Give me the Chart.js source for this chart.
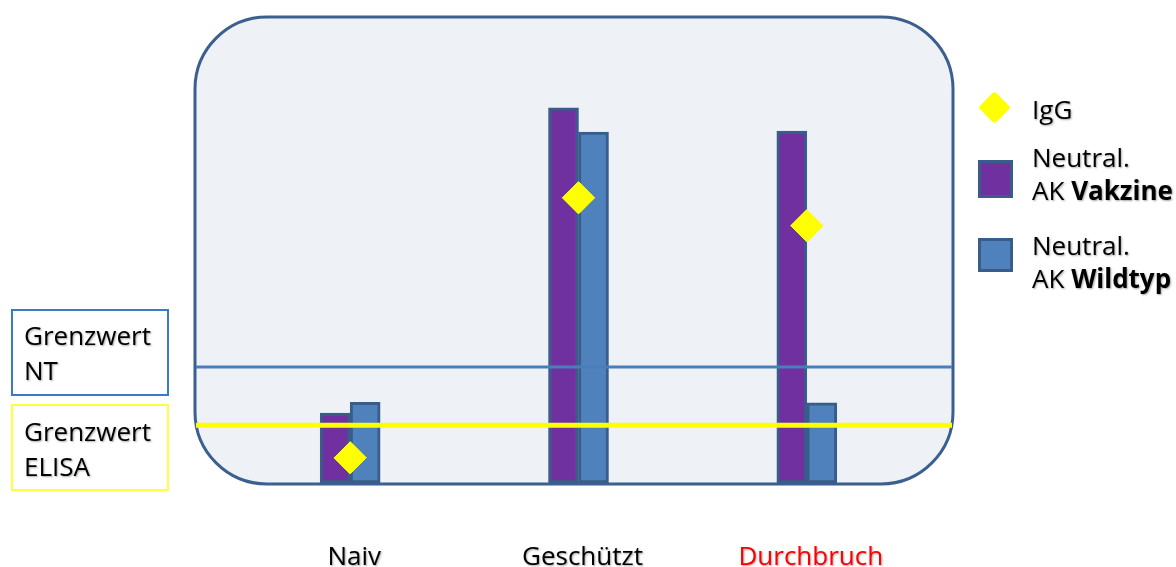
<!DOCTYPE html>
<html lang="de">
<head>
<meta charset="utf-8">
<title>IgG und neutralisierende Antikörper</title>
<script src="https://cdn.jsdelivr.net/npm/chart.js@4/dist/chart.umd.min.js"></script>
<style>
  html, body { margin: 0; padding: 0; background: #fff; }
  #wrap { position: relative; width: 1176px; height: 567px; overflow: hidden;
    font-family: "Open Sans", sans-serif; color: #000; }
  #wrap canvas { position: absolute; left: 0; top: 0; }
  .txt { position: absolute; font-size: 26px; line-height: 34px; white-space: nowrap;
    text-shadow: 1px 1px 2px rgba(0,0,0,0.35); }
  .gbox { position: absolute; left: 11px; width: 158px; box-sizing: border-box; }
  .gbox .txt { left: 11px; }
  .sw { position: absolute; box-sizing: border-box; border: 3px solid #385d8a; }
  .dia { position: absolute; width: 23px; height: 23px; background: #ffff00;
    transform: rotate(45deg); border-radius: 3px; }
</style>
</head>
<body>
<div id="wrap">
  <canvas id="c" width="1176" height="567"></canvas>

  <div class="gbox" style="top:309px;height:87px;border:2px solid #3a7cc4">
    <div class="txt" style="top:7px">Grenzwert</div>
    <div class="txt" style="top:42px">NT</div>
  </div>
  <div class="gbox" style="top:404px;height:87px;border:2px solid #ffff40">
    <div class="txt" style="top:8px">Grenzwert</div>
    <div class="txt" style="top:43px">ELISA</div>
  </div>

  <div class="dia" style="left:983px;top:96px"></div>
  <div class="txt" style="left:1032px;top:92px">IgG</div>
  <div class="sw" style="left:978px;top:160px;width:35px;height:38px;background:#7030a0"></div>
  <div class="txt" style="left:1032px;top:140px">Neutral.</div>
  <div class="txt" style="left:1032px;top:173px">AK <b>Vakzine</b></div>
  <div class="sw" style="left:978px;top:238px;width:35px;height:34px;background:#4f81bd"></div>
  <div class="txt" style="left:1032px;top:228px">Neutral.</div>
  <div class="txt" style="left:1032px;top:261px">AK <b>Wildtyp</b></div>
</div>

<script>
// categories and values (relative units, 0..100)
const groups = ['Naiv', 'Geschützt', 'Durchbruch'];
const labelColors = ['#000000', '#000000', '#ff0000'];
const nakVakzine = [15, 80.5, 75.5];
const nakWildtyp = [17.3, 75.3, 17.2];
const igg = [5.4, 61.2, 55.2];
const grenzwertNT = 24.9;
const grenzwertELISA = 12.4;

const PURPLE = '#7030a0', BLUE = '#4f81bd', EDGE = '#385d8a', YELLOW = '#ffff00';

// rounded panel behind the plot + shadow for tick labels
const panel = {
  id: 'panel',
  beforeDraw(chart) {
    const { ctx, chartArea: a } = chart;
    const x0 = a.left - 41, x1 = a.right + 32, y0 = a.top, y1 = a.bottom + 1;
    ctx.save();
    ctx.beginPath();
    ctx.roundRect(x0, y0, x1 - x0, y1 - y0, 72);
    ctx.fillStyle = '#eef2f7';
    ctx.fill();
    ctx.lineWidth = 3;
    ctx.strokeStyle = '#3b5f8f';
    ctx.stroke();
    ctx.restore();
    ctx.save();
    ctx.shadowColor = 'rgba(0,0,0,0.35)';
    ctx.shadowOffsetX = 1;
    ctx.shadowOffsetY = 1;
    ctx.shadowBlur = 2;
  },
  beforeDatasetsDraw(chart) {
    chart.ctx.restore();
  }
};

// threshold lines across the panel
const limits = {
  id: 'limits',
  afterDatasetsDraw(chart) {
    const { ctx, chartArea: a, scales: { y } } = chart;
    const x0 = a.left - 40, x1 = a.right + 31;
    [[grenzwertNT, '#4a7ebb', 3], [grenzwertELISA, YELLOW, 5]].forEach(([v, col, w]) => {
      const py = y.getPixelForValue(v);
      ctx.save();
      ctx.beginPath();
      ctx.moveTo(x0, py);
      ctx.lineTo(x1, py);
      ctx.lineWidth = w;
      ctx.strokeStyle = col;
      ctx.stroke();
      ctx.restore();
    });
    // redraw diamonds above the lines
    chart.getDatasetMeta(2).controller.draw();
  }
};

new Chart(document.getElementById('c'), {
  type: 'bar',
  data: {
    labels: groups,
    datasets: [
      { label: 'Neutral. AK Vakzine', data: nakVakzine, backgroundColor: PURPLE,
        borderColor: EDGE, borderWidth: 3, borderSkipped: false, barThickness: 30, order: 2 },
      { label: 'Neutral. AK Wildtyp', data: nakWildtyp, backgroundColor: BLUE,
        borderColor: EDGE, borderWidth: 3, borderSkipped: false, barThickness: 30, order: 2 },
      { type: 'line', label: 'IgG', data: igg, showLine: false, pointStyle: 'rectRot',
        pointRadius: 16, pointBackgroundColor: YELLOW, pointBorderColor: YELLOW,
        pointBorderWidth: 1, order: 0 }
    ]
  },
  options: {
    responsive: false,
    animation: false,
    layout: { padding: { left: 236, right: 255, top: 17, bottom: 0 } },
    plugins: { legend: { display: false }, tooltip: { enabled: false } },
    scales: {
      y: { display: false, min: 0, max: 100 },
      x: {
        grid: { display: false, drawTicks: false },
        border: { display: false },
        ticks: {
          padding: 59,
          labelOffset: 4,
          color: labelColors,
          font: { family: 'Open Sans', size: 26 }
        },
        afterFit(s) { s.height = 84; }
      }
    }
  },
  plugins: [panel, limits]
});
</script>
</body>
</html>
